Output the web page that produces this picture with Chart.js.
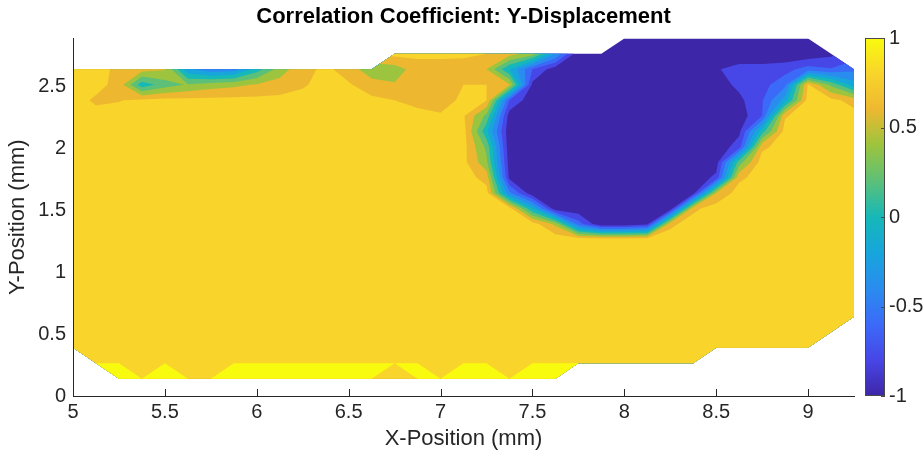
<!DOCTYPE html>
<html>
<head>
<meta charset="utf-8">
<title>Correlation Coefficient: Y-Displacement</title>
<script src="https://cdn.jsdelivr.net/npm/chart.js@4.4.1/dist/chart.umd.min.js"></script>
<style>
  html, body { margin: 0; padding: 0; background: #fff; }
  #wrap { position: relative; width: 924px; height: 458px; }
  #wrap canvas { position: absolute; top: 0; }
  #plot { left: 0; }
  #colorbar { left: 855px; }
</style>
</head>
<body>
<div id="wrap">
  <canvas id="plot" width="924" height="458"></canvas>
  <canvas id="colorbar" width="69" height="458"></canvas>
</div>
<script>
// Correlation coefficient of the Y displacement on the measurement grid.
// Columns follow xPos, rows follow yPos (top row first). null = no data.
const _ = null;

const xPos = [5, 5.125, 5.25, 5.375, 5.5, 5.625, 5.75, 5.875, 6, 6.125, 6.25, 6.375,
  6.5, 6.625, 6.75, 6.875, 7, 7.125, 7.25, 7.375, 7.5, 7.625, 7.75, 7.875,
  8, 8.125, 8.25, 8.375, 8.5, 8.625, 8.75, 8.875, 9, 9.125, 9.25];

const yPos = [2.89, 2.765, 2.64, 2.515, 2.39, 2.265, 2.14, 2.015, 1.89, 1.765, 1.64, 1.515,
  1.39, 1.265, 1.14, 1.015, 0.89, 0.765, 0.64, 0.515, 0.39, 0.265, 0.14];

const corrRows = [
  [_,_,_,_,_,_,_,_,_,_,_,_,_,_,_,_,_,_,_,_,_,_,_,_,-0.95,-0.95,-0.95,-0.95,-0.95,-0.95,-0.95,-0.95,-0.95,_,_],
  [_,_,_,_,_,_,_,_,_,_,_,_,_,_,0.86,0.85,0.84,0.82,0.80,0.68,0.50,-0.20,-0.95,-0.95,-0.95,-0.95,-0.95,-0.95,-0.95,-0.95,-0.95,-0.95,-0.95,-0.85,_],
  [0.90,0.88,0.75,0.68,0.62,-0.15,-0.35,-0.30,0.10,0.50,0.74,0.84,0.72,0.45,0.50,0.70,0.72,0.75,0.60,0.00,-0.60,-0.92,-0.95,-0.95,-0.95,-0.95,-0.95,-0.95,-0.82,-0.72,-0.72,-0.68,-0.50,-0.58,-0.45],
  [0.90,0.88,0.72,0.08,0.30,0.42,0.50,0.55,0.62,0.68,0.78,0.86,0.82,0.70,0.62,0.75,0.74,0.80,0.80,0.62,-0.85,-0.95,-0.95,-0.95,-0.95,-0.95,-0.95,-0.95,-0.90,-0.75,-0.68,-0.45,0.82,0.35,-0.10],
  [0.90,0.76,0.79,0.84,0.86,0.86,0.86,0.86,0.86,0.86,0.86,0.86,0.85,0.84,0.80,0.75,0.72,0.84,0.81,-0.60,-0.95,-0.95,-0.95,-0.95,-0.95,-0.95,-0.95,-0.95,-0.95,-0.85,-0.62,-0.10,0.88,0.86,0.72],
  [0.88,0.88,0.88,0.88,0.88,0.88,0.88,0.88,0.88,0.88,0.88,0.88,0.88,0.88,0.88,0.85,0.82,0.82,0.35,-0.90,-0.95,-0.95,-0.95,-0.95,-0.95,-0.95,-0.95,-0.95,-0.95,-0.92,-0.60,0.78,0.90,0.90,0.88],
  [0.90,0.90,0.90,0.90,0.90,0.90,0.90,0.90,0.90,0.90,0.90,0.90,0.90,0.90,0.90,0.90,0.90,0.88,0.05,-0.95,-0.95,-0.95,-0.95,-0.95,-0.95,-0.95,-0.95,-0.95,-0.95,-0.85,0.10,0.88,0.90,0.90,0.90],
  [0.90,0.90,0.90,0.90,0.90,0.90,0.90,0.90,0.90,0.90,0.90,0.90,0.90,0.90,0.90,0.90,0.90,0.87,0.35,-0.95,-0.95,-0.95,-0.95,-0.95,-0.95,-0.95,-0.95,-0.95,-0.95,-0.70,0.75,0.90,0.90,0.90,0.90],
  [0.90,0.90,0.90,0.90,0.90,0.90,0.90,0.90,0.90,0.90,0.90,0.90,0.90,0.90,0.90,0.90,0.90,0.86,0.45,-0.90,-0.95,-0.95,-0.95,-0.95,-0.95,-0.95,-0.95,-0.95,-0.90,0.30,0.90,0.90,0.90,0.90,0.90],
  [0.90,0.90,0.90,0.90,0.90,0.90,0.90,0.90,0.90,0.90,0.90,0.90,0.90,0.90,0.90,0.90,0.90,0.90,0.72,-0.85,-0.95,-0.95,-0.95,-0.95,-0.95,-0.95,-0.95,-0.95,-0.75,0.75,0.90,0.90,0.90,0.90,0.90],
  [0.90,0.90,0.90,0.90,0.90,0.90,0.90,0.90,0.90,0.90,0.90,0.90,0.90,0.90,0.90,0.90,0.90,0.90,0.88,-0.35,-0.95,-0.95,-0.95,-0.95,-0.95,-0.95,-0.95,-0.90,0.60,0.90,0.90,0.90,0.90,0.90,0.90],
  [0.90,0.90,0.90,0.90,0.90,0.90,0.90,0.90,0.90,0.90,0.90,0.90,0.90,0.90,0.90,0.90,0.90,0.90,0.90,0.88,0.00,-0.95,-0.95,-0.95,-0.95,-0.95,-0.95,0.75,0.90,0.90,0.90,0.90,0.90,0.90,0.90],
  [0.90,0.90,0.90,0.90,0.90,0.90,0.90,0.90,0.90,0.90,0.90,0.90,0.90,0.90,0.90,0.90,0.90,0.90,0.90,0.90,0.90,0.55,-0.50,-0.98,-0.98,-0.85,0.75,0.90,0.90,0.90,0.90,0.90,0.90,0.90,0.90],
  [0.90,0.90,0.90,0.90,0.90,0.90,0.90,0.90,0.90,0.90,0.90,0.90,0.90,0.90,0.90,0.90,0.90,0.90,0.90,0.90,0.90,0.93,0.93,0.93,0.93,0.93,0.90,0.90,0.90,0.90,0.90,0.90,0.90,0.90,0.90],
  [0.90,0.90,0.90,0.90,0.90,0.90,0.90,0.90,0.90,0.90,0.90,0.90,0.90,0.90,0.90,0.90,0.90,0.90,0.90,0.90,0.90,0.90,0.90,0.90,0.90,0.90,0.90,0.90,0.90,0.90,0.90,0.90,0.90,0.90,0.90],
  [0.90,0.90,0.90,0.90,0.90,0.90,0.90,0.90,0.90,0.90,0.90,0.90,0.90,0.90,0.90,0.90,0.90,0.90,0.90,0.90,0.90,0.90,0.90,0.90,0.90,0.90,0.90,0.90,0.90,0.90,0.90,0.90,0.90,0.90,0.90],
  [0.90,0.90,0.90,0.90,0.90,0.90,0.90,0.90,0.90,0.90,0.90,0.90,0.90,0.90,0.90,0.90,0.90,0.90,0.90,0.90,0.90,0.90,0.90,0.90,0.90,0.90,0.90,0.90,0.90,0.90,0.90,0.90,0.90,0.90,0.90],
  [0.90,0.90,0.90,0.90,0.90,0.90,0.90,0.90,0.90,0.90,0.90,0.90,0.90,0.90,0.90,0.90,0.90,0.90,0.90,0.90,0.90,0.90,0.90,0.90,0.90,0.90,0.90,0.90,0.90,0.90,0.90,0.90,0.90,0.90,0.90],
  [0.90,0.90,0.90,0.90,0.90,0.90,0.90,0.90,0.90,0.90,0.90,0.90,0.90,0.90,0.90,0.90,0.90,0.90,0.90,0.90,0.90,0.90,0.90,0.90,0.90,0.90,0.90,0.90,0.90,0.90,0.90,0.90,0.90,0.90,0.90],
  [0.90,0.90,0.90,0.90,0.90,0.90,0.90,0.90,0.90,0.90,0.90,0.90,0.90,0.90,0.90,0.90,0.90,0.90,0.90,0.90,0.90,0.90,0.90,0.90,0.90,0.90,0.90,0.90,0.90,0.90,0.90,0.90,0.90,0.90,_],
  [0.90,0.90,0.90,0.90,0.90,0.90,0.90,0.90,0.90,0.90,0.90,0.90,0.90,0.90,0.90,0.90,0.90,0.90,0.90,0.90,0.90,0.90,0.90,0.90,0.90,0.90,0.90,0.90,0.90,0.90,0.90,0.90,0.90,_,_],
  [_,1,1,0.90,1,0.90,0.90,1,1,1,1,1,1,1,1,1,0.90,1,1,0.90,1,1,1,0.90,0.90,0.90,0.90,0.90,_,_,_,_,_,_,_],
  [_,_,1,1,1,1,1,1,1,1,1,1,1,1,0.90,1,1,1,1,1,1,1,_,_,_,_,_,_,_,_,_,_,_,_,_]
];

// contour levels and the fill used above each of them
const levels = [-1, -0.8, -0.6, -0.4, -0.2, 0, 0.2, 0.4, 0.6, 0.8, 1];
const bandColors = ['#3e26a8', '#4746e6', '#3c6af8', '#2a8cef', '#17a5dc', '#16b8b8',
  '#5cc078', '#9cc43e', '#edb830', '#f9d42b', '#f9fb0e'];

const xTicks = [5, 5.5, 6, 6.5, 7, 7.5, 8, 8.5, 9];
const yTicks = [0, 0.5, 1, 1.5, 2, 2.5];
const cbTicks = [-1, -0.5, 0, 0.5, 1];

const axisColor = '#262626';
Chart.defaults.font.family = '"Liberation Sans", Arial, Helvetica, sans-serif';
Chart.defaults.color = axisColor;

const plainLabel = v => String(v);

// part of a grid cell where z >= level (corners walked in order)
function clipAbove(corners, level) {
  const out = [];
  for (let i = 0; i < corners.length; i++) {
    const a = corners[i];
    const b = corners[(i + 1) % corners.length];
    const inA = a.z >= level;
    const inB = b.z >= level;
    if (inA) out.push(a);
    if (inA !== inB) {
      const t = (level - a.z) / (b.z - a.z);
      out.push({ px: a.px + t * (b.px - a.px), py: a.py + t * (b.py - a.py) });
    }
  }
  return out;
}

// MATLAB style tick marks pointing into the plot (under the fill)
const inwardTicks = {
  id: 'inwardTicks',
  beforeDatasetsDraw(chart) {
    const { ctx, chartArea: a, scales: { x, y } } = chart;
    ctx.save();
    ctx.strokeStyle = axisColor;
    ctx.lineWidth = 1;
    ctx.beginPath();
    xTicks.forEach(v => {
      const px = Math.round(x.getPixelForValue(v)) + 0.5;
      ctx.moveTo(px, a.bottom);
      ctx.lineTo(px, a.bottom - 7);
    });
    yTicks.forEach(v => {
      const py = Math.round(y.getPixelForValue(v)) + 0.5;
      ctx.moveTo(a.left, py);
      ctx.lineTo(a.left + 7, py);
    });
    ctx.stroke();
    ctx.restore();
  }
};

// filled contours, one path per level, painted from the lowest level up
const contourFill = {
  id: 'contourFill',
  beforeDatasetsDraw(chart) {
    const { ctx, chartArea: a, scales: { x, y } } = chart;
    const px = xPos.map(v => x.getPixelForValue(v));
    const py = yPos.map(v => y.getPixelForValue(v));

    ctx.save();
    ctx.beginPath();
    ctx.rect(a.left, a.top, a.right - a.left, a.bottom - a.top);
    ctx.clip();

    levels.forEach((level, k) => {
      ctx.beginPath();
      for (let r = 0; r < yPos.length - 1; r++) {
        for (let c = 0; c < xPos.length - 1; c++) {
          const corners = [[c, r + 1], [c + 1, r + 1], [c + 1, r], [c, r]]
            .filter(([cc, rr]) => corrRows[rr][cc] !== null)
            .map(([cc, rr]) => ({ px: px[cc], py: py[rr], z: corrRows[rr][cc] }));
          if (corners.length < 3) continue;
          const poly = clipAbove(corners, level);
          if (poly.length < 3) continue;
          ctx.moveTo(poly[0].px, poly[0].py);
          for (let i = 1; i < poly.length; i++) ctx.lineTo(poly[i].px, poly[i].py);
          ctx.closePath();
        }
      }
      ctx.fillStyle = bandColors[k];
      ctx.fill();
    });
    ctx.restore();
  }
};

const nodes = [];
corrRows.forEach((row, r) => row.forEach((z, c) => {
  if (z !== null) nodes.push({ x: xPos[c], y: yPos[r], z: z });
}));

new Chart(document.getElementById('plot'), {
  type: 'scatter',
  data: {
    datasets: [{
      label: 'Correlation coefficient',
      data: nodes,
      pointRadius: 0,
      pointHoverRadius: 0
    }]
  },
  options: {
    responsive: false,
    animation: false,
    devicePixelRatio: 1,
    layout: { padding: { right: 70 } },
    plugins: {
      legend: { display: false },
      tooltip: { enabled: false },
      title: {
        display: true,
        text: 'Correlation Coefficient: Y-Displacement',
        color: '#000',
        fullSize: false,
        font: { size: 22, weight: 'bold' },
        padding: { top: 4, bottom: 8 }
      }
    },
    scales: {
      x: {
        type: 'linear',
        min: 5,
        max: 9.25,
        afterBuildTicks: s => { s.ticks = xTicks.map(v => ({ value: v })); },
        afterFit: s => { s.height = 62; },
        ticks: { autoSkip: false, maxRotation: 0, padding: 4, font: { size: 20 }, callback: plainLabel },
        grid: { drawOnChartArea: false, drawTicks: false },
        border: { color: axisColor, width: 1, z: 1 },
        title: {
          display: true,
          text: 'X-Position (mm)',
          font: { size: 22 },
          padding: { top: 2, bottom: 6 }
        }
      },
      y: {
        type: 'linear',
        min: 0,
        max: 2.89,
        afterBuildTicks: s => { s.ticks = yTicks.map(v => ({ value: v })); },
        afterFit: s => { s.width = 73; },
        ticks: { autoSkip: false, padding: 7, font: { size: 20 }, callback: plainLabel },
        grid: { drawOnChartArea: false, drawTicks: false },
        border: { color: axisColor, width: 1, z: 1 },
        title: {
          display: true,
          text: 'Y-Position (mm)',
          font: { size: 22 },
          padding: { top: 5, bottom: 7 }
        }
      }
    }
  },
  plugins: [inwardTicks, contourFill]
});

// colour bar: one floating bar from -1 to 1 painted with the colour map
function colorbarFill(context) {
  const chart = context.chart;
  const area = chart.chartArea;
  if (!area) return bandColors[0];
  const g = chart.ctx.createLinearGradient(0, area.bottom, 0, area.top);
  bandColors.forEach((col, i) => g.addColorStop(i / (bandColors.length - 1), col));
  return g;
}

const colorbarFrame = {
  id: 'colorbarFrame',
  afterDatasetsDraw(chart) {
    const { ctx, chartArea: a, scales: { y } } = chart;
    ctx.save();
    ctx.strokeStyle = '#4a4a4a';
    ctx.lineWidth = 1;
    ctx.strokeRect(a.left + 0.5, a.top + 0.5, a.right - a.left - 1, a.bottom - a.top - 1);
    ctx.beginPath();
    cbTicks.forEach(v => {
      const py = Math.round(y.getPixelForValue(v)) + 0.5;
      ctx.moveTo(a.right, py);
      ctx.lineTo(a.right - 4, py);
    });
    ctx.stroke();
    ctx.restore();
  }
};

new Chart(document.getElementById('colorbar'), {
  type: 'bar',
  data: {
    labels: [''],
    datasets: [{
      data: [[-1, 1]],
      backgroundColor: colorbarFill,
      borderWidth: 0,
      barPercentage: 1,
      categoryPercentage: 1
    }]
  },
  options: {
    responsive: false,
    animation: false,
    devicePixelRatio: 1,
    layout: { padding: { left: 10, top: 38, bottom: 62 } },
    plugins: { legend: { display: false }, tooltip: { enabled: false } },
    scales: {
      x: { display: false },
      y: {
        position: 'right',
        min: -1,
        max: 1,
        afterBuildTicks: s => { s.ticks = cbTicks.map(v => ({ value: v })); },
        afterFit: s => { s.width = 39; },
        ticks: { padding: 4, font: { size: 20 }, callback: plainLabel },
        grid: { display: false, drawTicks: false },
        border: { display: false }
      }
    }
  },
  plugins: [colorbarFrame]
});
</script>
</body>
</html>
